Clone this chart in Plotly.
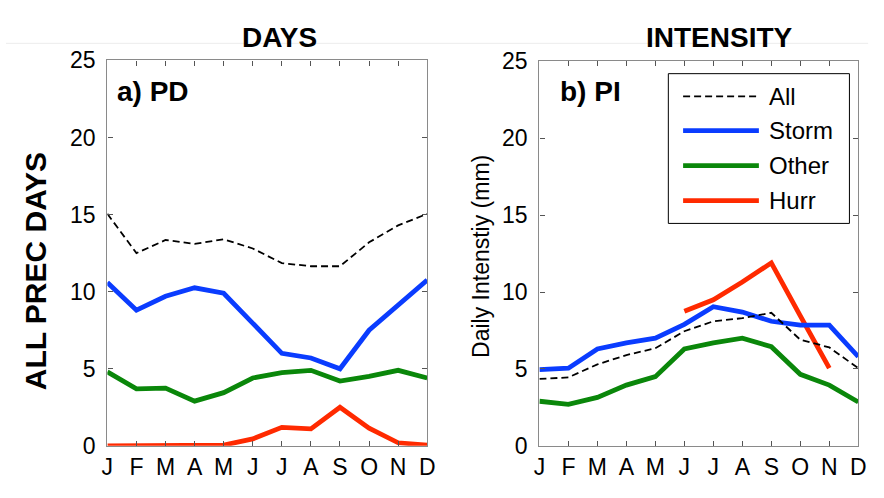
import plotly.graph_objects as go

months = ["J", "F", "M", "A", "M", "J", "J", "A", "S", "O", "N", "D"]
xidx = list(range(12))
series_names = ["All", "Storm", "Other", "Hurr"]

# Panel a) PD - precipitation days
pd_all = [15.05, 12.5, 13.35, 13.1, 13.4, 12.8, 11.85, 11.65, 11.65, 13.2, 14.3, 15.05]
pd_storm = [10.6, 8.8, 9.7, 10.25, 9.9, 8.0, 6.0, 5.7, 5.0, 7.5, 9.1, 10.75]
pd_other = [4.8, 3.7, 3.75, 2.9, 3.45, 4.4, 4.75, 4.9, 4.2, 4.5, 4.9, 4.4]
pd_hurr = [0.0, 0.0, 0.0, 0.05, 0.05, 0.45, 1.2, 1.1, 2.5, 1.15, 0.2, 0.05]

# Panel b) PI - daily intensity (mm)
pi_all = [4.35, 4.45, 5.3, 5.9, 6.35, 7.45, 8.1, 8.3, 8.65, 6.9, 6.4, 5.05]
pi_storm = [4.95, 5.05, 6.3, 6.7, 7.0, 7.9, 9.05, 8.7, 8.1, 7.85, 7.85, 5.8]
pi_other = [2.9, 2.7, 3.15, 3.95, 4.5, 6.3, 6.7, 7.0, 6.45, 4.65, 3.95, 2.85]
pi_hurr = [None, None, None, None, None, 8.75, 9.5, 10.65, 11.9, 8.45, 5.05, None]

yticks = [0, 5, 10, 15, 20, 25]

colors = ["black", "#0a3cff", "#0a870a", "#ff2a00"]
widths = [1.8, 4.8, 4.8, 4.8]
DASH = "7px,4px"

W, H = 884, 498
def px(x):
    return x / W
def py(y):
    return 1 - y / H

fig = go.Figure()
for data, xa, ya in [([pd_all, pd_storm, pd_other, pd_hurr], "x", "y"),
                     ([pi_all, pi_storm, pi_other, pi_hurr], "x2", "y2")]:
    for i in [3, 2, 1, 0]:
        fig.add_trace(go.Scatter(
            x=xidx, y=data[i], mode="lines", name=series_names[i],
            line=dict(color=colors[i], width=widths[i], dash=DASH if i == 0 else "solid"),
            xaxis=xa, yaxis=ya, showlegend=False, connectgaps=False))

FONT = "Liberation Sans"
axis_common = dict(showgrid=False, zeroline=False, showline=True, linecolor="#8a8a8a",
                   linewidth=1.3, mirror="ticks", ticks="inside", ticklen=5,
                   tickcolor="#555", tickfont=dict(family=FONT, size=23, color="black"))

xl = dict(**axis_common)
xl.update(tickmode="array", tickvals=xidx, ticktext=months, range=[0, 11])
yl = dict(**axis_common)
yl.update(tickmode="array", tickvals=yticks, ticktext=[str(v) for v in yticks], range=[0, 25],
          ticklabelstandoff=6)

fig.update_layout(
    width=W, height=H, margin=dict(l=0, r=0, t=0, b=0),
    paper_bgcolor="white", plot_bgcolor="white",
    xaxis=dict(domain=[px(103), px(428)], anchor="y", **xl),
    yaxis=dict(domain=[py(456.7), py(50)], anchor="x", **yl),
    xaxis2=dict(domain=[px(542), px(866)], anchor="y2", **xl),
    yaxis2=dict(domain=[py(456.7), py(51)], anchor="x2", **yl),
    showlegend=False,
)

ann = [
    dict(text="<b>DAYS</b>", x=px(278), y=py(26), font=dict(size=28)),
    dict(text="<b>INTENSITY</b>", x=px(725), y=py(26), font=dict(size=28)),
    dict(text="<b>a) PD</b>", x=px(111), y=py(83), xanchor="left", font=dict(size=28)),
    dict(text="<b>b) PI</b>", x=px(561), y=py(83), xanchor="left", font=dict(size=28)),
    dict(text="<b>ALL PREC DAYS</b>", x=px(30), y=py(273), textangle=-90, font=dict(size=30)),
    dict(text="Daily Intenstiy (mm)", x=px(482), y=py(257), textangle=-90, font=dict(size=23)),
]
for a in ann:
    a.setdefault("xanchor", "center")
    a.update(xref="paper", yref="paper", showarrow=False, yanchor="middle")
    a["font"].update(family=FONT, color="black")
    fig.add_annotation(**a)

# faint separator line near top
fig.add_shape(type="line", xref="paper", yref="paper", x0=0, x1=px(876), y0=py(32), y1=py(32),
              line=dict(color="#ececec", width=1), layer="below")

# legend box (manual, to match long line samples)
fig.add_shape(type="rect", xref="paper", yref="paper", x0=px(673), x1=px(857), y0=py(222), y1=py(64),
              line=dict(color="black", width=1), fillcolor="white")
leg_y = [88, 124, 161, 198]
for i, name in enumerate(series_names):
    fig.add_shape(type="line", xref="paper", yref="paper", x0=px(688), x1=px(765),
                  y0=py(leg_y[i]), y1=py(leg_y[i]),
                  line=dict(color=colors[i], width=widths[i] if i else 1.8,
                            dash=DASH if i == 0 else "solid"))
    fig.add_annotation(text=name, xref="paper", yref="paper", x=px(773), y=py(leg_y[i]),
                       xanchor="left", yanchor="middle", showarrow=False,
                       font=dict(family=FONT, size=24, color="black"))

fig.write_html("out.html")
